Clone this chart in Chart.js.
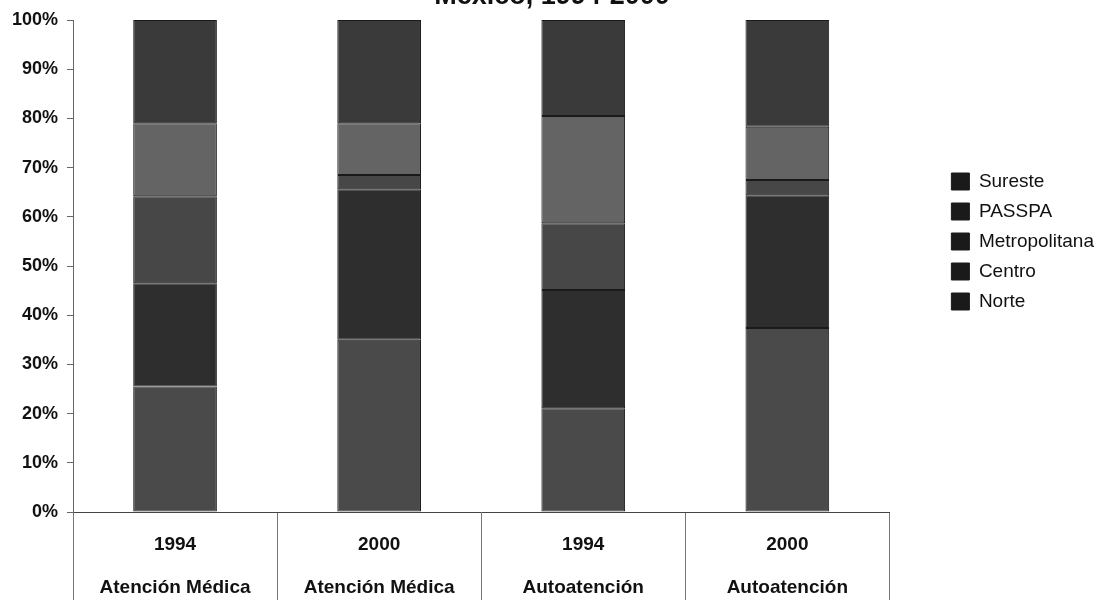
<!DOCTYPE html>
<html>
<head>
<meta charset="utf-8">
<script src="https://cdn.jsdelivr.net/npm/chart.js@4.4.1/dist/chart.umd.min.js"></script>
<style>
  body { margin: 0; background: #fff; }
  #wrap { width: 1104px; height: 600px; overflow: hidden; }
  #chart { display: block; margin-top: -17px; }
</style>
</head>
<body>
<div id="wrap"><canvas id="chart" width="1104" height="617"></canvas></div>
<script>
// categories (two-line labels)
const years = ['1994', '2000', '1994', '2000'];
const services = ['Atención Médica', 'Atención Médica', 'Autoatención', 'Autoatención'];

// shares per region, %
const norte = [25.5, 35.0, 21.1, 37.4];
const centro = [21.0, 30.6, 24.0, 27.0];
const metropolitana = [17.7, 2.9, 13.6, 3.1];
const passpa = [14.8, 10.5, 21.8, 10.8];
const sureste = [21.0, 21.0, 19.5, 21.7];

const yMax = 100;
const yStep = 10;

const font = "'Liberation Sans', Arial, sans-serif";

function ds(label, data, color) {
    return {
        label: label,
        data: data,
        backgroundColor: color,
        borderColor: '#1a1a1a',
        borderWidth: 1,
        borderSkipped: false
    };
}

new Chart(document.getElementById('chart'), {
    type: 'bar',
    data: {
        labels: years.map((y, i) => [y, services[i]]),
        datasets: [
            ds('Norte', norte, '#4a4a4a'),
            ds('Centro', centro, '#2e2e2e'),
            ds('Metropolitana', metropolitana, '#474747'),
            ds('PASSPA', passpa, '#646464'),
            ds('Sureste', sureste, '#3a3a3a')
        ]
    },
    options: {
        responsive: false,
        animation: false,
        layout: { padding: 0 },
        datasets: { bar: { categoryPercentage: 1, barPercentage: 0.41 } },
        plugins: {
            title: {
                display: true,
                text: 'México, 1994-2000',
                color: '#111',
                font: { family: font, size: 27, weight: 'bold', lineHeight: 1 },
                padding: { top: 0, bottom: 10 }
            },
            legend: {
                position: 'right',
                align: 'start',
                fullSize: false,
                reverse: true,
                title: {
                    display: true,
                    text: ' ',
                    font: { size: 10, lineHeight: 1 },
                    padding: { top: 0, bottom: 131 }
                },
                labels: {
                    boxWidth: 18,
                    boxHeight: 17,
                    padding: 11,
                    color: '#111',
                    font: { family: font, size: 19 },
                    generateLabels: chart => {
                        const items = Chart.defaults.plugins.legend.labels.generateLabels(chart);
                        items.forEach(it => { it.fillStyle = '#1a1a1a'; it.strokeStyle = '#1a1a1a'; });
                        return items;
                    }
                }
            },
            tooltip: { enabled: false }
        },
        scales: {
            x: {
                stacked: true,
                afterFit: s => { s.height = 88; },
                border: { color: '#444' },
                grid: {
                    offset: true,
                    drawOnChartArea: false,
                    drawTicks: true,
                    tickLength: 88,
                    color: '#777'
                },
                ticks: {
                    color: '#111',
                    padding: -76.5,
                    maxRotation: 0,
                    font: { family: font, size: 19, weight: 'bold', lineHeight: '43px' }
                }
            },
            y: {
                stacked: true,
                min: 0,
                max: yMax,
                afterFit: s => { s.width = 73; },
                border: { color: '#666' },
                grid: { drawOnChartArea: false, tickLength: 6, color: '#666' },
                ticks: {
                    stepSize: yStep,
                    padding: 9,
                    color: '#111',
                    font: { family: font, size: 18, weight: 'bold' },
                    callback: v => v + '%'
                }
            },
            // empty axis only to keep room between plot and legend
            yRight: {
                position: 'right',
                display: true,
                afterFit: s => { s.width = 51; },
                border: { display: false },
                grid: { display: false },
                ticks: { display: false }
            }
        }
    }
});
</script>
</body>
</html>
